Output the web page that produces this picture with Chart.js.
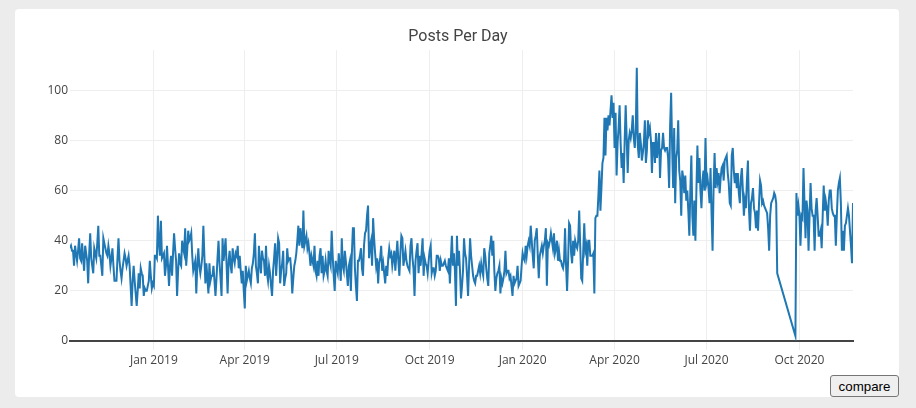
<!DOCTYPE html>
<html>
<head>
<meta charset="utf-8">
<title>Posts Per Day</title>
<script src="https://cdn.jsdelivr.net/npm/chart.js@4.4.1/dist/chart.umd.min.js"></script>
<style>
  html, body { margin: 0; padding: 0; }
  body { width: 916px; height: 408px; background: #ececec; position: relative; overflow: hidden; }
  .card { position: absolute; left: 15px; top: 9px; width: 884px; height: 388px; background: #fff; border-radius: 4px; }
  #chart { position: absolute; left: 0; top: 0; }
  .compare {
    position: absolute; left: 830px; top: 375px; width: 69px; height: 22px;
    box-sizing: border-box; padding: 0; margin: 0;
    font: 13.33px Arial, "Liberation Sans", sans-serif; color: #000;
    background: #efefef; border: 1px solid #767676; border-radius: 3px;
  }
</style>
</head>
<body>
<div class="card"></div>
<canvas id="chart" width="916" height="408"></canvas>
<button class="compare">compare</button>
<script>
// Posts per day, one value per day starting at firstDay (null = no data)
const firstDay = '2018-10-10';

const posts2018 = [
  37,38,36,36,30,38,35,32,36,41,
  33,32,39,33,28,38,35,32,23,35,
  43,33,30,27,37,35,33,39,46,34,
  34,30,26,41,39,37,35,34,38,35,
  30,33,37,30,24,24,24,33,41,32,
  28,25,29,32,35,33,30,32,34,30,
  22,14,24,30,24,19,14,20,27,21,
  29,27,26,18,21,20,20,22,24,32,
  26,21,23
];

const posts2019 = [
  22,34,34,33,50,39,34,
  48,33,34,35,26,30,38,30,22,30,
  34,26,35,43,37,32,18,28,35,31,
  30,40,37,35,45,30,36,44,40,41,
  43,34,28,30,32,19,30,37,30,27,
  30,34,46,34,23,31,25,19,31,24,
  26,26,30,24,18,25,33,40,31,25,
  18,41,32,36,41,30,19,32,36,30,
  27,37,33,31,35,34,38,29,34,28,
  23,28,20,13,30,24,26,28,25,23,
  29,31,35,43,30,27,23,38,31,27,
  36,33,32,26,38,27,24,30,27,22,
  18,28,33,39,26,33,41,39,23,28,
  31,36,22,25,27,37,32,33,33,28,
  19,25,30,32,35,40,46,38,45,41,
  37,52,38,40,42,37,39,35,30,34,
  32,30,38,28,26,32,26,34,37,27,
  34,26,28,32,28,26,36,32,30,44,
  34,26,20,32,29,27,35,30,24,41,
  30,28,36,32,27,22,30,32,20,35,
  45,45,29,22,16,32,32,34,37,29,
  26,38,43,44,50,54,33,38,40,30,
  49,41,35,30,33,23,31,33,38,28,
  31,27,23,30,26,33,37,34,35,30,
  33,36,28,34,40,32,26,35,42,41,
  30,33,36,32,30,29,28,38,41,33,
  29,18,32,36,39,27,34,30,35,41,
  26,33,31,30,27,32,36,38,27,29,
  29,26,28,34,34,33,28,32,30,30,
  31,32,30,29,28,33,23,33,42,30,
  35,28,14,42,30,36,28,17,22,28,
  41,35,33,26,18,30,41,34,30,26,
  24,23,26,26,28,30,27,31,28,26,
  37,34,29,25,22,35,38,42,34,40,
  28,20,25,27,28,30,19,25,23,25,
  28,36,27,28,28,25,26,22,18,26,
  23,24,25,30,22,23,24,30
];

const posts2020 = [
  35,33,
  32,38,34,38,40,38,46,40,34,29,
  40,42,45,34,25,34,36,38,35,38,
  40,45,22,39,38,40,43,40,37,43,
  35,37,40,32,36,32,32,30,29,32,
  45,30,20,32,47,46,35,31,40,34,
  40,38,37,40,52,38,25,24,36,47,
  36,38,30,40,40,34,34,34,35,19,
  49,50,50,58,68,52,61,71,73,89,
  74,89,84,90,86,92,98,89,95,77,
  91,66,79,85,94,79,69,75,63,80,
  94,81,67,80,83,81,84,90,81,77,
  84,109,78,73,83,79,72,75,79,88,
  71,76,88,83,85,80,67,79,79,71,
  83,73,77,83,65,76,77,83,77,76,
  77,77,73,61,86,99,77,61,85,55,
  73,76,88,68,64,50,68,65,59,66,
  56,60,52,42,60,74,50,42,56,40,
  60,78,63,73,60,53,64,68,60,81,
  63,65,61,55,69,51,36,61,75,61,
  69,64,67,59,65,69,70,64,72,73,
  74,67,63,55,54,74,77,68,63,67,
  61,67,59,55,65,69,60,50,56,53,
  64,72,53,44,55,57,61,53,51,45,
  52,44,55,64,62,55,56,54,53,52,
  51,45,36,50,55,56,57,59,58,55,
  27,
  null,null,null,null,null,null,null,null,null,null,null,null,null,null,null,null,null,
  2,59,
  50,54,50,38,50,49,69,55,41,56,
  52,36,50,63,53,50,50,36,52,57,
  50,42,42,44,37,50,62,52,56,53,
  46,56,60,60,53,51,50,50,38,50,
  60,63,65,55,36,44,36,46,47,50,
  53,50,44,38,31,55
];

const tickDates = ['2019-01-01', '2019-04-01', '2019-07-01', '2019-10-01',
                   '2020-01-01', '2020-04-01', '2020-07-01', '2020-10-01'];
const tickLabels = ['Jan 2019', 'Apr 2019', 'Jul 2019', 'Oct 2019',
                    'Jan 2020', 'Apr 2020', 'Jul 2020', 'Oct 2020'];

/* ---------------------------
   Series
   --------------------------- */

const DAY = 86400000;

function buildPoints() {
  const start = Date.parse(firstDay);
  const values = posts2018.concat(posts2019, posts2020);
  return values.map((v, i) => ({ x: start + i * DAY, y: v }));
}

const points = buildPoints();

/* ---------------------------
   Chart
   --------------------------- */

Chart.defaults.font.family = '"Open Sans", sans-serif';
Chart.defaults.font.size = 12;
Chart.defaults.color = '#444';

new Chart(document.getElementById('chart'), {
  type: 'line',
  data: {
    datasets: [{
      label: 'Posts',
      data: points,
      borderColor: '#1f77b4',
      borderWidth: 2,
      pointRadius: 0,
      tension: 0,
      fill: false,
      spanGaps: true
    }]
  },
  options: {
    responsive: false,
    animation: false,
    devicePixelRatio: 1,
    layout: { padding: 0 },
    plugins: {
      legend: { display: false },
      tooltip: { enabled: false },
      title: {
        display: true,
        text: 'Posts Per Day',
        color: '#444',
        font: { family: 'Roboto', size: 16, weight: 'normal' },
        padding: { top: 27, bottom: 4 }
      }
    },
    scales: {
      x: {
        type: 'linear',
        min: points[0].x,
        max: points[points.length - 1].x,
        afterBuildTicks: scale => {
          scale.ticks = tickDates.map(d => ({ value: Date.parse(d) }));
        },
        afterFit: scale => { scale.height = 67; },
        ticks: {
          autoSkip: false,
          maxRotation: 0,
          padding: 3,
          callback: (value, index) => tickLabels[index]
        },
        grid: { color: '#eee', tickColor: '#eee', tickLength: 9 },
        border: { display: true, color: '#444', width: 2 }
      },
      y: {
        min: 0,
        max: 116,
        afterFit: scale => { scale.width = 70; },
        ticks: { stepSize: 20, includeBounds: false, padding: 2 },
        grid: {
          drawTicks: false,
          color: c => (c.tick && c.tick.value === 0) ? 'rgba(0,0,0,0)' : '#eee'
        },
        border: { display: false }
      },
      // empty right-hand box: keeps the plot edge at 853 while the title stays centred on the card
      yRight: {
        position: 'right',
        afterFit: scale => { scale.width = 63; },
        ticks: { display: false },
        grid: { display: false },
        border: { display: false }
      }
    }
  }
});
</script>
</body>
</html>
